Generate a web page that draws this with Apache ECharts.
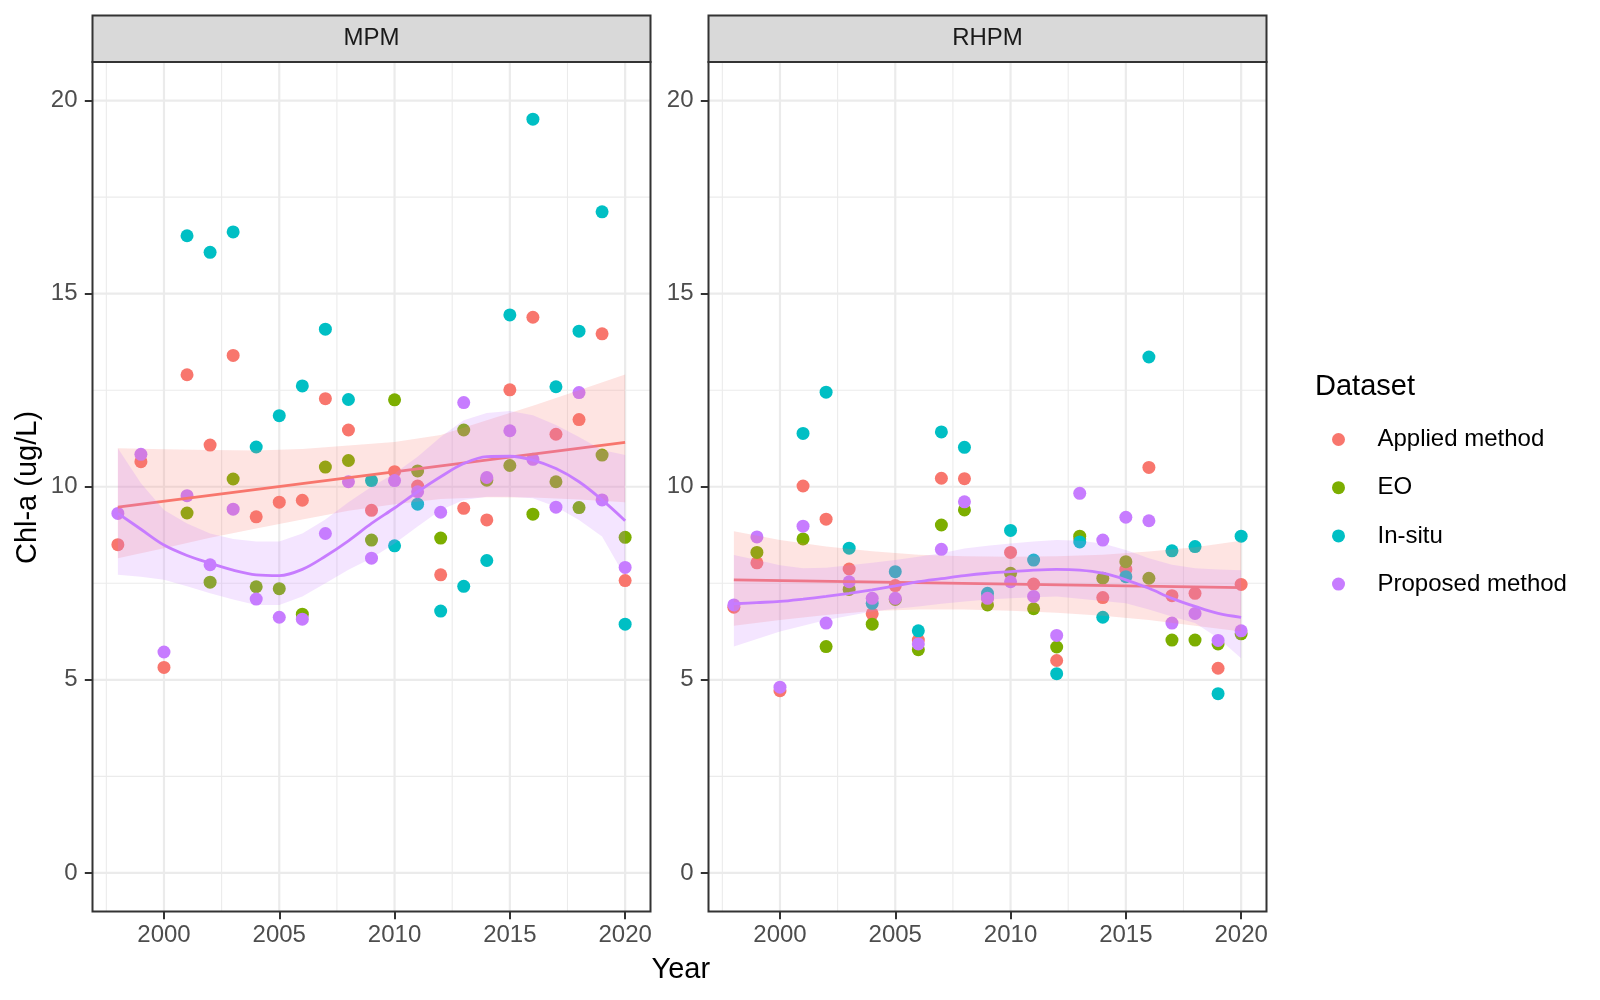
<!DOCTYPE html>
<html>
<head>
<meta charset="utf-8">
<title>Chl-a by year</title>
<script src="https://cdn.jsdelivr.net/npm/echarts@6/dist/echarts.min.js"></script>
<style>
html, body { margin: 0; padding: 0; background: #fff; }
#main { width: 1600px; height: 1000px; }
</style>
</head>
<body>
<div id="main"></div>
<script>
// values (null = no point visible)
var years = [1998, 1999, 2000, 2001, 2002, 2003, 2004, 2005, 2006, 2007, 2008, 2009,
             2010, 2011, 2012, 2013, 2014, 2015, 2016, 2017, 2018, 2019, 2020];
var datasetNames = ['Applied method', 'EO', 'In-situ', 'Proposed method'];
var panelNames = ['MPM', 'RHPM'];

// MPM panel
var mpmApplied  = [8.5, 10.65, 5.32, 12.9, 11.08, 13.4, 9.22, 9.6, 9.65, 12.28, 11.47, 9.39,
                   10.39, 10.02, 7.72, 9.44, 9.14, 12.51, 14.39, 11.36, 11.74, 13.96, 7.57];
var mpmEO       = [null, null, null, 9.32, 7.53, 10.2, 7.41, 7.36, 6.7, 10.51, 10.68, 8.62,
                   12.25, 10.41, 8.67, 11.47, 10.17, 10.55, 9.29, 10.13, 9.46, 10.82, 8.69];
var mpmInsitu   = [null, null, null, 16.5, 16.07, 16.6, 11.03, 11.84, 12.61, 14.08, 12.26, 10.16,
                   8.47, 9.55, 6.78, 7.42, 8.09, 14.45, 19.52, 12.59, 14.03, 17.12, 6.44];
var mpmProposed = [9.31, 10.84, 5.72, 9.77, 7.98, 9.42, 7.09, 6.62, 6.57, 8.79, 10.13, 8.15,
                   10.16, 9.87, 9.34, 12.18, 10.24, 11.45, 10.71, 9.47, 12.44, 9.66, 7.91];

// RHPM panel
var rhpmApplied  = [6.88, 8.03, 4.72, 10.02, 9.16, 7.87, 6.71, 7.44, 6.03, 10.22, 10.21, 7.12,
                    8.3, 7.48, 5.5, 8.65, 7.13, 7.86, 10.5, 7.18, 7.24, 5.3, 7.47];
var rhpmEO       = [null, 8.3, null, 8.65, 5.86, 7.34, 6.44, 7.08, 5.78, 9.01, 9.4, 6.94,
                    7.76, 6.84, 5.85, 8.72, 7.63, 8.06, 7.63, 6.03, 6.03, 5.93, 6.19];
var rhpmInsitu   = [null, null, null, 11.38, 12.45, 8.41, 6.98, 7.8, 6.27, 11.42, 11.02, 7.24,
                    8.87, 8.1, 5.16, 8.57, 6.62, 7.67, 13.36, 8.34, 8.45, 4.64, 8.72];
var rhpmProposed = [6.94, 8.7, 4.81, 8.98, 6.47, 7.54, 7.11, 7.11, 5.93, 8.38, 9.61, 7.11,
                    7.54, 7.16, 6.15, 9.83, 8.62, 9.21, 9.12, 6.47, 6.72, 6.02, 6.27];

// straight fit (Applied method), read at both ends
var lmYears = [1998, 2020];
var mpmLmLine = [9.47, 11.15];
var rhpmLmLine = [7.59, 7.39];
// its confidence band, read every second year
var lmBandYears = [1998, 2000, 2002, 2004, 2006, 2008, 2010, 2012, 2014, 2016, 2018, 2020];
var mpmLmUpper  = [11.0, 10.97, 10.95, 10.94, 10.98, 11.07, 11.16, 11.34, 11.72, 12.1, 12.5, 12.91];
var mpmLmLower  = [8.15, 8.41, 8.68, 8.92, 9.15, 9.38, 9.55, 9.68, 9.73, 9.72, 9.67, 9.6];
var rhpmLmUpper = [8.85, 8.62, 8.45, 8.33, 8.24, 8.2, 8.19, 8.2, 8.24, 8.32, 8.43, 8.6];
var rhpmLmLower = [6.4, 6.55, 6.68, 6.78, 6.82, 6.82, 6.79, 6.74, 6.66, 6.55, 6.4, 6.25];

// smooth curve (Proposed method) with its band, read at every year
var mpmLoLine  = [9.31, 8.9, 8.49, 8.22, 8.02, 7.84, 7.72, 7.7, 7.86, 8.2, 8.6, 9.05,
                  9.45, 9.87, 10.26, 10.6, 10.78, 10.79, 10.69, 10.47, 10.13, 9.66, 9.12];
var mpmLoUpper = [11.0, 10.09, 9.4, 9.05, 8.79, 8.65, 8.58, 8.58, 8.79, 9.15, 9.6, 10.0,
                  10.34, 10.78, 11.29, 11.72, 11.91, 11.96, 11.85, 11.6, 11.29, 10.95, 10.82];
var mpmLoLower = [7.72, 7.67, 7.59, 7.42, 7.24, 7.08, 6.94, 6.94, 7.16, 7.5, 7.85, 8.15,
                  8.53, 8.97, 9.4, 9.66, 9.74, 9.74, 9.7, 9.48, 9.14, 8.71, 7.67];
var rhpmLoLine  = [6.97, 7.0, 7.03, 7.09, 7.16, 7.24, 7.33, 7.43, 7.54, 7.62, 7.7, 7.76,
                   7.8, 7.84, 7.86, 7.84, 7.76, 7.59, 7.37, 7.11, 6.9, 6.72, 6.62];
var rhpmLoUpper = [8.23, 8.1, 7.97, 7.89, 7.9, 7.97, 8.03, 8.1, 8.19, 8.28, 8.4, 8.47,
                   8.53, 8.58, 8.62, 8.6, 8.53, 8.36, 8.15, 7.98, 7.89, 7.86, 7.84];
var rhpmLoLower = [5.86, 6.06, 6.25, 6.4, 6.55, 6.66, 6.77, 6.84, 6.9, 6.97, 7.03, 7.08,
                   7.11, 7.14, 7.16, 7.1, 7.04, 6.98, 6.82, 6.64, 6.47, 6.08, 5.56];

// axis breaks
var yTicks = [0, 5, 10, 15, 20];
var yMinor = [2.5, 7.5, 12.5, 17.5];
var xTicks = [2000, 2005, 2010, 2015, 2020];
var xMinor = [1997.5, 2002.5, 2007.5, 2012.5, 2017.5];

var colors = ['#F8766D', '#7CAE00', '#00BFC4', '#C77CFF'];
var FONT = "'Liberation Sans', Arial, Helvetica, sans-serif";

// panel layout (pixels)
var panelLeft = [92.5, 708.5];
var panelTop = 62, panelW = 558, panelH = 849.5;
var stripTop = 15.5;

var chart = echarts.init(document.getElementById('main'));

function pairs(xs, vals) {
	var out = [];
	for (var i = 0; i < xs.length; i++) {
		if (vals[i] != null) out.push([xs[i], vals[i]]);
	}
	return out;
}

function gridLines(gi) {
	var items = [];
	yTicks.forEach(function (v) { items.push([v, 0, 1]); });
	yMinor.forEach(function (v) { items.push([v, 0, 0]); });
	xTicks.forEach(function (v) { items.push([v, 1, 1]); });
	xMinor.forEach(function (v) { items.push([v, 1, 0]); });
	return {
		type: 'custom', name: 'grid' + gi, xAxisIndex: gi, yAxisIndex: gi,
		silent: true, z: 0, data: items,
		renderItem: function (params, api) {
			var cs = params.coordSys;
			var v = api.value(0), dir = api.value(1);
			var lw = api.value(2) ? 2.2 : 1.1;
			if (dir === 0) {
				var y = api.coord([2009, v])[1];
				return { type: 'line', shape: { x1: cs.x, y1: y, x2: cs.x + cs.width, y2: y },
					style: { stroke: '#EBEBEB', lineWidth: lw } };
			}
			var x = api.coord([v, 10])[0];
			return { type: 'line', shape: { x1: x, y1: cs.y, x2: x, y2: cs.y + cs.height },
				style: { stroke: '#EBEBEB', lineWidth: lw } };
		}
	};
}

function band(name, xs, lo, hi, fill, gi, z) {
	return {
		type: 'custom', name: name, xAxisIndex: gi, yAxisIndex: gi, silent: true, z: z, clip: true,
		data: xs.map(function (x, i) { return [x, lo[i], hi[i]]; }),
		encode: { x: 0, y: [1, 2] },
		renderItem: function (params, api) {
			if (params.dataIndex !== 0) return null;
			var pts = [], i;
			for (i = 0; i < xs.length; i++) pts.push(api.coord([xs[i], hi[i]]));
			for (i = xs.length - 1; i >= 0; i--) pts.push(api.coord([xs[i], lo[i]]));
			return { type: 'polygon', shape: { points: pts }, style: { fill: fill } };
		}
	};
}

function fitLine(name, xs, vals, color, gi, z, smooth) {
	return {
		type: 'line', name: name, xAxisIndex: gi, yAxisIndex: gi, z: z, silent: true,
		showSymbol: false, smooth: smooth, data: pairs(xs, vals),
		lineStyle: { color: color, width: 2.8 }
	};
}

var panelData = [
	[mpmApplied, mpmEO, mpmInsitu, mpmProposed],
	[rhpmApplied, rhpmEO, rhpmInsitu, rhpmProposed]
];
var lmFits = [[mpmLmLine, mpmLmLower, mpmLmUpper], [rhpmLmLine, rhpmLmLower, rhpmLmUpper]];
var loFits = [[mpmLoLine, mpmLoLower, mpmLoUpper], [rhpmLoLine, rhpmLoLower, rhpmLoUpper]];

var series = [];
var grids = [], xAxes = [], yAxes = [], graphics = [];

for (var g = 0; g < 2; g++) {
	grids.push({ left: panelLeft[g], top: panelTop, width: panelW, height: panelH, show: false, containLabel: false });
	xAxes.push({
		type: 'value', gridIndex: g, min: 1996.9, max: 2021.1,
		axisLine: { show: false, onZero: false },
		axisTick: { show: true, customValues: xTicks, length: 7.7, lineStyle: { color: '#333333', width: 2 } },
		axisLabel: { customValues: xTicks, fontSize: 24, color: '#4D4D4D', margin: 12, fontFamily: FONT,
			formatter: function (v) { return String(v); } },
		splitLine: { show: false }
	});
	yAxes.push({
		type: 'value', gridIndex: g, min: -1, max: 21,
		axisLine: { show: false, onZero: false },
		axisTick: { show: true, customValues: yTicks, length: 7.7, lineStyle: { color: '#333333', width: 2 } },
		axisLabel: { customValues: yTicks, fontSize: 24, color: '#4D4D4D', margin: 15, fontFamily: FONT },
		splitLine: { show: false }
	});

	series.push(gridLines(g));
	for (var d = 0; d < 4; d++) {
		series.push({
			type: 'scatter', name: datasetNames[d], xAxisIndex: g, yAxisIndex: g, z: 2,
			symbolSize: 13, itemStyle: { color: colors[d], opacity: 1 },
			data: pairs(years, panelData[g][d])
		});
	}
	series.push(band('Applied band', lmBandYears, lmFits[g][1], lmFits[g][2], 'rgba(248,118,109,0.2)', g, 3));
	series.push(fitLine('Applied fit', lmYears, lmFits[g][0], colors[0], g, 4, false));
	series.push(band('Proposed band', years, loFits[g][1], loFits[g][2], 'rgba(199,124,255,0.2)', g, 5));
	series.push(fitLine('Proposed fit', years, loFits[g][0], colors[3], g, 6, 0.35));

	// strip and panel border
	graphics.push({
		type: 'rect', z: 100, silent: true,
		shape: { x: panelLeft[g], y: stripTop, width: panelW, height: panelTop - stripTop },
		style: { fill: '#D9D9D9', stroke: '#333333', lineWidth: 2 }
	});
	graphics.push({
		type: 'text', z: 101, silent: true, x: panelLeft[g] + panelW / 2, y: (stripTop + panelTop) / 2,
		style: { text: panelNames[g], fontSize: 24, fontFamily: FONT, fill: '#1A1A1A',
			align: 'center', verticalAlign: 'middle', textAlign: 'center', textVerticalAlign: 'middle' }
	});
	graphics.push({
		type: 'rect', z: 100, silent: true,
		shape: { x: panelLeft[g], y: panelTop, width: panelW, height: panelH },
		style: { fill: 'none', stroke: '#333333', lineWidth: 2 }
	});
}

// axis titles and legend title
graphics.push({
	type: 'text', silent: true, x: 680.8, y: 970,
	style: { text: 'Year', fontSize: 29, fontFamily: FONT, fill: '#000',
		align: 'center', verticalAlign: 'middle', textAlign: 'center', textVerticalAlign: 'middle' }
});
graphics.push({
	type: 'text', silent: true, x: 28, y: 487.5, rotation: Math.PI / 2,
	style: { text: 'Chl-a (ug/L)', fontSize: 29, fontFamily: FONT, fill: '#000',
		align: 'center', verticalAlign: 'middle', textAlign: 'center', textVerticalAlign: 'middle' }
});
graphics.push({
	type: 'text', silent: true, x: 1315, y: 387,
	style: { text: 'Dataset', fontSize: 29, fontFamily: FONT, fill: '#000',
		align: 'left', verticalAlign: 'middle', textAlign: 'left', textVerticalAlign: 'middle' }
});

var option = {
	backgroundColor: '#ffffff',
	animation: false,
	textStyle: { fontFamily: FONT },
	grid: grids,
	xAxis: xAxes,
	yAxis: yAxes,
	legend: {
		orient: 'vertical', left: 1332, top: 427.5, padding: 0,
		itemWidth: 68, itemHeight: 13, itemGap: 24.2, icon: 'circle',
		selectedMode: false, data: datasetNames,
		textStyle: { fontSize: 24, color: '#000', fontFamily: FONT }
	},
	graphic: graphics,
	series: series
};

chart.setOption(option);
</script>
</body>
</html>
